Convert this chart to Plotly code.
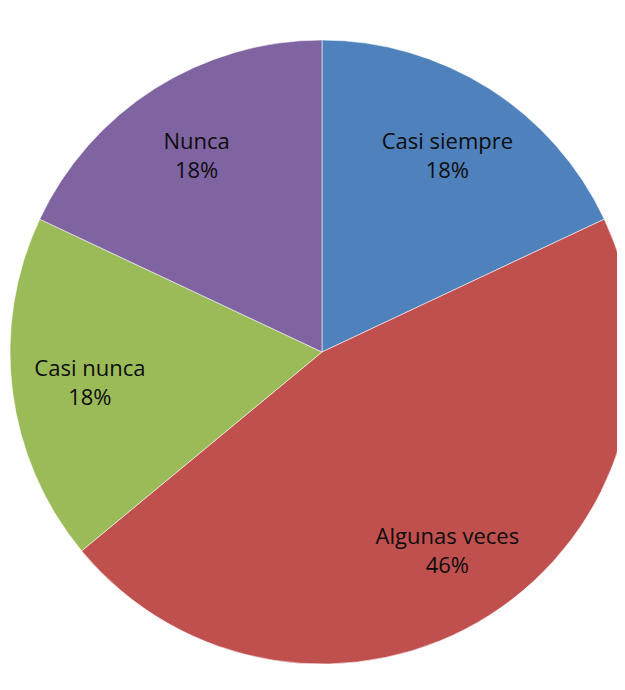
import plotly.graph_objects as go

categories = ["Casi siempre", "Algunas veces", "Casi nunca", "Nunca"]
values = [18, 46, 18, 18]
colors = ["#4F81BD", "#C0504D", "#9BBB59", "#8064A2"]

W, H = 640, 690
dom = dict(x=[2 / W, 626 / W], y=[34 / H, 658 / H])

fig = go.Figure()
# coloured slices
fig.add_trace(go.Pie(
    labels=categories,
    values=values,
    sort=False,
    direction="clockwise",
    rotation=0,
    marker=dict(colors=colors, line=dict(color="rgba(255,255,255,0.55)", width=1)),
    textinfo="none",
    hoverinfo="label+percent",
    domain=dom,
    showlegend=False,
))
# transparent ring used only to place the data labels further out
fig.add_trace(go.Pie(
    labels=categories,
    values=values,
    sort=False,
    direction="clockwise",
    rotation=0,
    hole=0.5,
    marker=dict(colors=["rgba(0,0,0,0)"] * len(values), line=dict(width=0)),
    texttemplate="%{label}<br>%{percent:.0%}",
    textposition="inside",
    insidetextorientation="horizontal",
    textfont=dict(family="Open Sans", size=22, color="#0d0d0d"),
    hoverinfo="skip",
    domain=dom,
    showlegend=False,
))

fig.update_layout(
    width=W,
    height=H,
    margin=dict(l=0, r=0, t=0, b=0),
    paper_bgcolor="white",
    plot_bgcolor="white",
    showlegend=False,
)

fig.write_html("out.html")
